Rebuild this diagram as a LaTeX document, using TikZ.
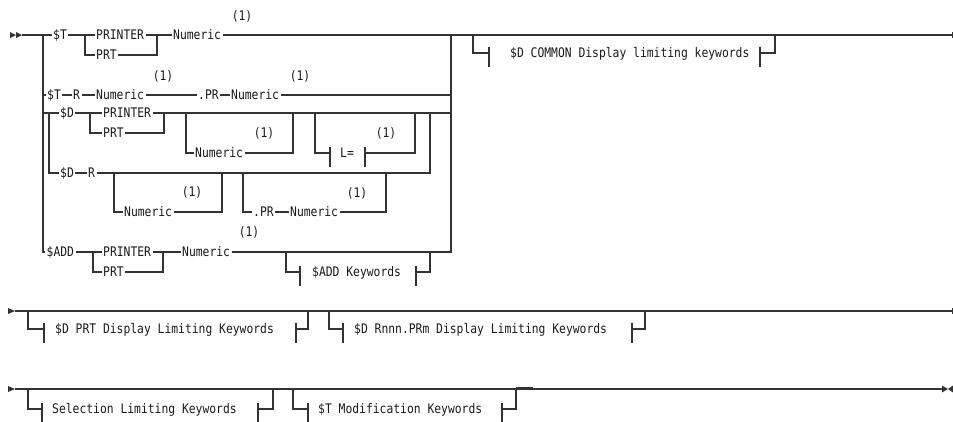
\documentclass[tikz,border=0pt]{standalone}
\usepackage{fontspec}
\newfontfamily\kwfamily[FakeStretch=0.86]{DejaVu Sans Mono}
\newcommand\kwfont{\kwfamily\fontsize{13.2}{14}\selectfont}
\definecolor{ln}{HTML}{333333}
\definecolor{tx}{HTML}{1A1A1A}
\tikzset{
  rr/.style={line width=1.2pt, draw=ln},
  kw/.style={font=\kwfont, text=tx, fill=white, inner xsep=1.5pt, inner ysep=1pt,
             text height=9.6pt, text depth=0pt, anchor=west},
  fn/.style={font=\kwfont, text=tx, inner sep=0pt, text height=9.6pt, text depth=0pt},
  tip/.style={fill=ln, draw=none},
}
\newcommand\fragbar[2]{\draw[rr] (#1,#2-6) -- (#1,#2+14);}
\begin{document}
\begin{tikzpicture}[x=1pt,y=-1pt]
\useasboundingbox (0,0) rectangle (953,421);
% ---------------- section 1 ----------------
\fill[tip] (10,32) -- (16,35) -- (10,38) -- cycle;
\fill[tip] (16,32) -- (22,35) -- (16,38) -- cycle;
\coordinate (s1) at (22,35);
\coordinate (e1) at (953,35);
\draw[rr] (s1) -- (e1);
\draw[line width=1pt, draw=ln] (952,32) -- (952,38);
% outer bars
\draw[rr] (43,35) -- (43,252) -- (451,252) -- (451,35);
\draw[rr] (43,95) -- (451,95);
\draw[rr] (43,113) -- (451,113);
% inner $D bars
\draw[rr] (49,113) -- (49,173) -- (430,173) -- (430,113);
% row 1 fork
\draw[rr] (85,35) -- (85,55) -- (157,55) -- (157,35);
% row 3 forks and options
\draw[rr] (90,113) -- (90,133) -- (164,133) -- (164,113);
\draw[rr] (186,113) -- (186,153) -- (293,153) -- (293,113);
\draw[rr] (315,113) -- (315,153) -- (330,153);
\fragbar{330}{153}
\fragbar{365}{153}
\draw[rr] (365,153) -- (415,153) -- (415,113);
% row 4 options
\draw[rr] (114,173) -- (114,212) -- (222,212) -- (222,173);
\draw[rr] (243,173) -- (243,212) -- (386,212) -- (386,173);
% row 5 fork and option
\draw[rr] (93,252) -- (93,272) -- (163,272) -- (163,252);
\draw[rr] (286,252) -- (286,272) -- (300,272);
\fragbar{300}{272}
\fragbar{416}{272}
\draw[rr] (416,272) -- (430,272) -- (430,252);
% COMMON option
\draw[rr] (473,35) -- (473,53) -- (489,53);
\fragbar{489}{53}
\fragbar{760}{53}
\draw[rr] (760,53) -- (775,53) -- (775,35);

% texts section 1
\node[kw] (t1) at (51.5,35) {\$T};
\node[kw] (pr1) at (94.5,35) {PRINTER};
\node[kw] (prt1) at (94.5,55) {PRT};
\node[kw] (n1) at (171.5,35) {Numeric};
\node[fn] (f1) at (242,16) {(1)};

\node[kw] (t2) at (45.5,95) {\$T};
\node[kw] (r2) at (71.5,95) {R};
\node[kw] (n2) at (94.5,95) {Numeric};
\node[kw] (pr2) at (196.5,95) {.PR};
\node[kw] (n2b) at (229.5,95) {Numeric};
\node[fn] (f2) at (163,76) {(1)};
\node[fn] (f2b) at (300,76) {(1)};

\node[kw] (d3) at (58.5,113) {\$D};
\node[kw] (pr3) at (101.5,113) {PRINTER};
\node[kw] (prt3) at (101.5,133) {PRT};
\node[kw] (n3) at (193.5,153) {Numeric};
\node[fn] (f3) at (264,133) {(1)};
\node[kw, fill=none] (l3) at (338.5,153) {L=};
\node[fn] (f3b) at (386,133) {(1)};

\node[kw] (d4) at (58.5,173) {\$D};
\node[kw] (r4) at (86.5,173) {R};
\node[kw] (n4) at (122.5,212) {Numeric};
\node[fn] (f4) at (192,192) {(1)};
\node[kw] (pr4) at (251.5,212) {.PR};
\node[kw] (n4b) at (288.5,212) {Numeric};
\node[fn] (f4b) at (357,193) {(1)};

\node[kw] (add5) at (45,252) {\$ADD};
\node[kw] (pr5) at (101.5,252) {PRINTER};
\node[kw] (prt5) at (101.5,272) {PRT};
\node[kw] (n5) at (180.5,252) {Numeric};
\node[fn] (f5) at (249,232) {(1)};
\node[kw, fill=none] (addk) at (310.5,272) {\$ADD Keywords};

\node[kw, fill=none] (common) at (508.5,53) {\$D COMMON Display limiting keywords};

% ---------------- section 2 ----------------
\fill[tip] (8,308) -- (15,311) -- (8,314) -- cycle;
\coordinate (s2) at (15,311);
\coordinate (e2) at (953,311);
\draw[rr] (s2) -- (e2);
\draw[line width=1pt, draw=ln] (952,308) -- (952,314);
\draw[rr] (28,311) -- (28,329) -- (44,329);
\fragbar{44}{329}
\fragbar{296}{329}
\draw[rr] (296,329) -- (308,329) -- (308,311);
\draw[rr] (329,311) -- (329,329) -- (343,329);
\fragbar{343}{329}
\fragbar{632}{329}
\draw[rr] (632,329) -- (645,329) -- (645,311);
\node[kw, fill=none] (dprt) at (53.5,329) {\$D PRT Display Limiting Keywords};
\node[kw, fill=none] (drnnn) at (352.5,329) {\$D Rnnn.PRm Display Limiting Keywords};

% ---------------- section 3 ----------------
\fill[tip] (8,386) -- (15,389) -- (8,392) -- cycle;
\coordinate (s3) at (15,389);
\coordinate (e3) at (942,389);
\draw[rr] (s3) -- (e3);
\fill[tip] (942,385.5) -- (948,389) -- (942,392.5) -- cycle;
\fill[tip] (953,385.5) -- (948,389) -- (953,392.5) -- cycle;
\draw[rr] (28,389) -- (28,409) -- (42,409);
\fragbar{42}{409}
\fragbar{258}{409}
\draw[rr] (258,409) -- (273,409) -- (273,389);
\draw[rr] (293,389) -- (293,409) -- (308,409);
\fragbar{308}{409}
\fragbar{502}{409}
\draw[rr] (502,409) -- (516,409) -- (516,389);
\draw[line width=1.2pt, draw=ln] (516,387.5) -- (533,387.5);
\node[kw, fill=none] (sel) at (50.5,409) {Selection Limiting Keywords};
\node[kw, fill=none] (tmod) at (316.5,409) {\$T Modification Keywords};
\end{tikzpicture}
\end{document}
